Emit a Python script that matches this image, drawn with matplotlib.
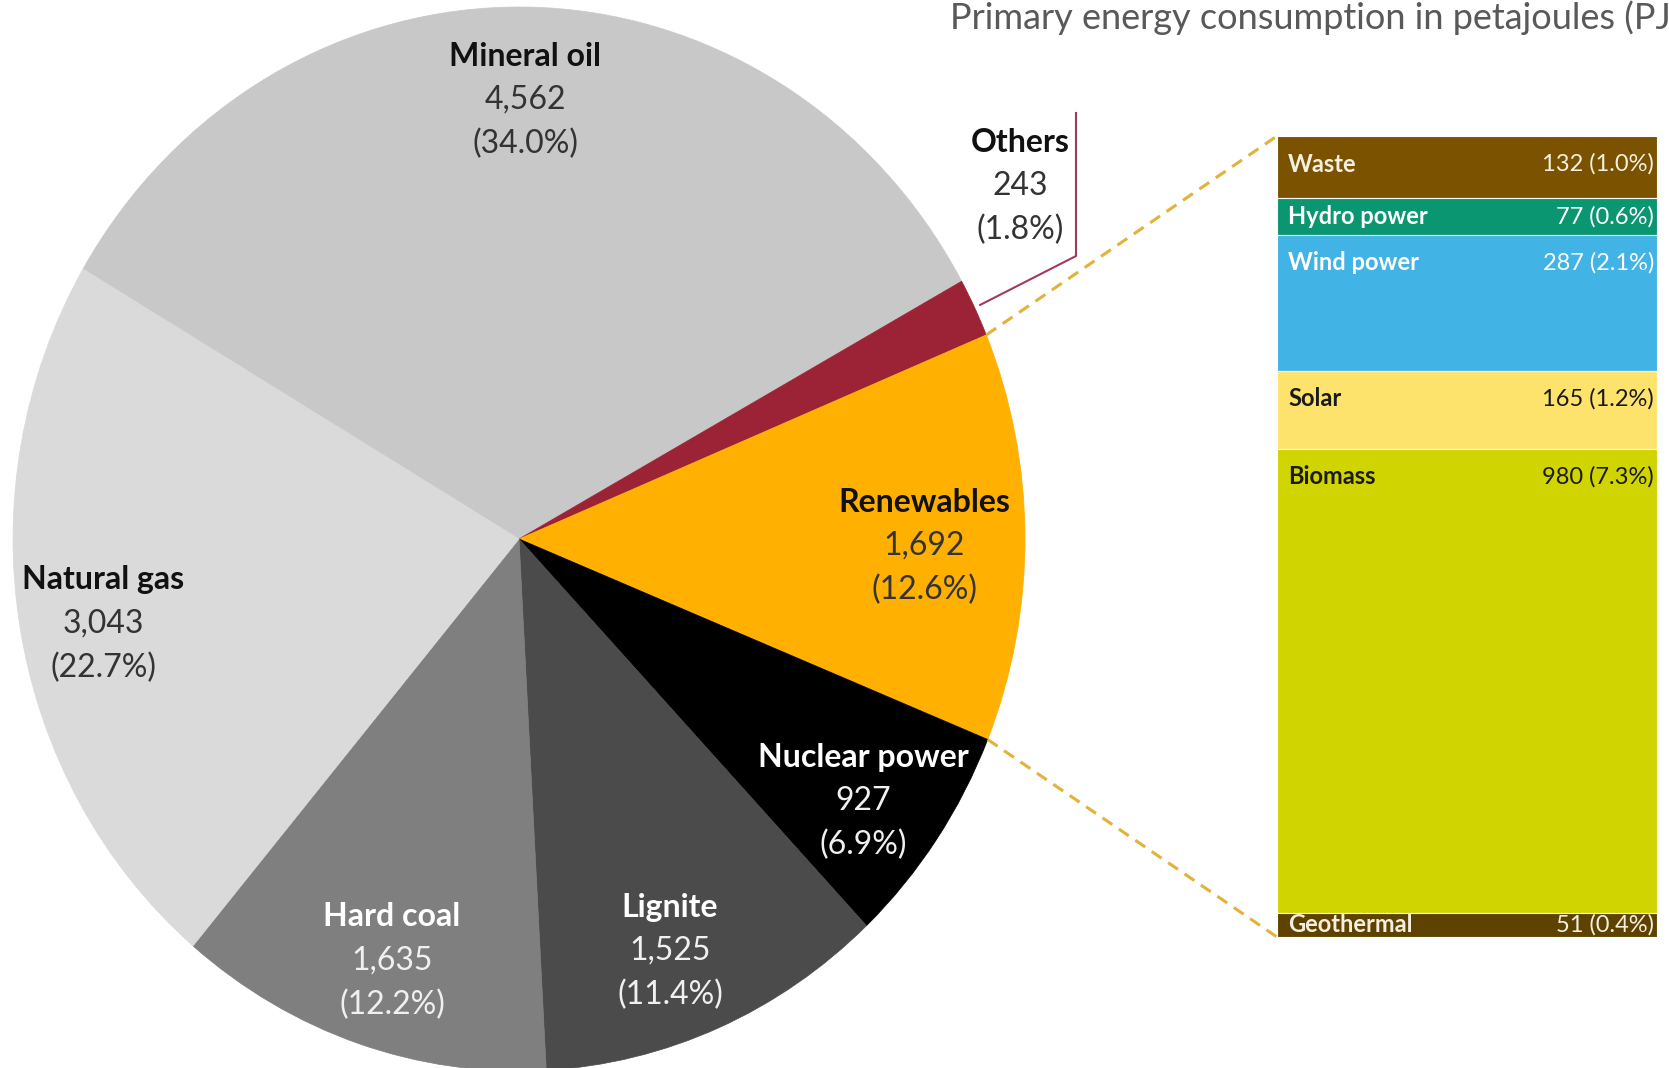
import matplotlib
matplotlib.use("Agg")
import matplotlib.pyplot as plt
import numpy as np

plt.rcParams['font.family'] = ['Lato', 'DejaVu Sans']

# ---------------- data ----------------
categories = ["Mineral oil", "Others", "Renewables", "Nuclear power",
              "Lignite", "Hard coal", "Natural gas"]
values = [4562, 243, 1692, 927, 1525, 1635, 3043]
value_labels = ["4,562", "243", "1,692", "927", "1,525", "1,635", "3,043"]
shares = ["(34.0%)", "(1.8%)", "(12.6%)", "(6.9%)", "(11.4%)", "(12.2%)", "(22.7%)"]

ren_categories = ["Waste", "Hydro power", "Wind power", "Solar", "Biomass", "Geothermal"]
ren_values = [132, 77, 287, 165, 980, 51]
ren_labels = ["132 (1.0%)", "77 (0.6%)", "287 (2.1%)", "165 (1.2%)", "980 (7.3%)", "51 (0.4%)"]

title = "Primary energy consumption in petajoules (PJ)"

# ---------------- styles ----------------
pie_colors = ["#c8c8c8", "#9b2335", "#ffb000", "#000000", "#4b4b4b", "#7f7f7f", "#dadada"]
pie_text_light = [False, False, False, True, True, True, False]
ren_colors = ["#7a5200", "#0b9672", "#41b3e4", "#fde36c", "#d0d400", "#5e4200"]
ren_text_colors = ["#f5efe0", "#ffffff", "#ffffff", "#1a1a1a", "#1a1a1a", "#f5efe0"]

W, H = 1669, 1068
fig = plt.figure(figsize=(W / 100, H / 100), dpi=100)
fig.patch.set_facecolor("white")

# pie (slightly elliptical, as in the reference)
cx, cy, rx, ry = 519, 539, 506, 532
ax_pie = fig.add_axes([(cx - rx) / W, 1 - (cy + ry) / H, 2 * rx / W, 2 * ry / H])
wedges, _ = ax_pie.pie(values, colors=pie_colors, startangle=149.5,
                       counterclock=False, radius=1, center=(0, 0))
for w, c in zip(wedges, pie_colors):
    w.set_edgecolor(c)
    w.set_linewidth(0.5)
ax_pie.set_xlim(-1, 1)
ax_pie.set_ylim(-1, 1)
ax_pie.set_aspect('auto')
ax_pie.axis('off')

# stacked bar for renewables
bx0, bx1, by0, by1 = 1277, 1657, 136, 937
ax_bar = fig.add_axes([bx0 / W, 1 - by1 / H, (bx1 - bx0) / W, (by1 - by0) / H])
total = float(sum(ren_values))
cum = np.concatenate([[0], np.cumsum(ren_values)[:-1]])
ax_bar.bar(0.5, ren_values, width=1, bottom=cum, color=ren_colors,
           edgecolor="white", linewidth=0.8)
ax_bar.set_xlim(0, 1)
ax_bar.set_ylim(total, 0)
ax_bar.axis('off')

# overlay in pixel coordinates
ax = fig.add_axes([0, 0, 1, 1])
ax.set_xlim(0, W)
ax.set_ylim(H, 0)
ax.axis('off')
ax.patch.set_alpha(0)


def ell(theta_deg, r=1.0):
    t = np.deg2rad(theta_deg)
    return cx + r * rx * np.cos(t), cy - r * ry * np.sin(t)


# connectors from renewables wedge to the bar
wr = wedges[2]
t_hi, t_lo = max(wr.theta1, wr.theta2), min(wr.theta1, wr.theta2)
p_hi = ell(t_hi)
p_lo = ell(t_lo)
dash = dict(color="#e2b23a", lw=2.2, linestyle=(0, (3.9, 2.6)))
ax.plot([p_hi[0], bx0], [p_hi[1], by0], **dash)
ax.plot([p_lo[0], bx0], [p_lo[1], by1], **dash)

# leader for "Others"
wo = wedges[1]
tm = 0.5 * (wo.theta1 + wo.theta2)
ps = ell(tm, 1.012)
ax.plot([ps[0], 1076, 1076], [ps[1], 256, 113], color="#a33a5a", lw=1.5)

# pie labels
label_pos = {
    "Mineral oil": (525, 56),
    "Others": (1020, 142),
    "Renewables": (924, 502),
    "Nuclear power": (863, 757),
    "Lignite": (670, 907),
    "Hard coal": (392, 917),
    "Natural gas": (103, 580),
}
for cat, vl, sh, light in zip(categories, value_labels, shares, pie_text_light):
    x, y = label_pos[cat]
    c1 = "#ffffff" if light else "#111111"
    c2 = "#f0f0f0" if light else "#333333"
    ax.text(x, y, cat, ha='center', va='center', fontsize=23, fontweight='bold', color=c1)
    ax.text(x, y + 44, vl, ha='center', va='center', fontsize=23, color=c2)
    ax.text(x, y + 88, sh, ha='center', va='center', fontsize=23, color=c2)

# bar labels
px_per = (by1 - by0) / total
for name, lab, v, c0, tc in zip(ren_categories, ren_labels, ren_values, cum, ren_text_colors):
    top = by0 + c0 * px_per
    h = v * px_per
    y = top + min(28, h / 2)
    ax.text(1288, y, name, ha='left', va='center', fontsize=17, fontweight='bold', color=tc)
    ax.text(1654, y, lab, ha='right', va='center', fontsize=17, color=tc)

# title (cut at right edge as in the reference)
ax.text(950, 18, title, ha='left', va='center', fontsize=26, color="#595959")

fig.savefig("out.png", dpi=100, facecolor="white")
